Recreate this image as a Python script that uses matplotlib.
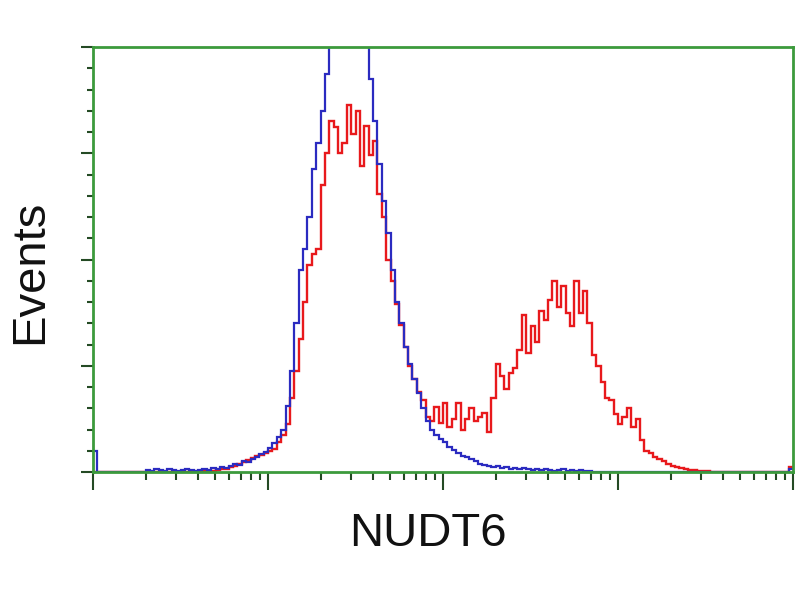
import numpy as np
import matplotlib
matplotlib.use("Agg")
import matplotlib.pyplot as plt
from matplotlib.ticker import LogLocator, MultipleLocator, NullFormatter

# ---- data (histogram counts per log-channel bin, 0.025 decade each, 4 decades) ----
n_decades = 4
bin_step = 0.025

blue_counts = ([20] + [0] * 11 +
               [2, 1, 3, 2, 1, 3, 2, 1, 2, 3, 2, 1, 2, 3, 2, 4, 3, 5,
                4, 6, 8, 7, 10, 9, 12, 14, 17, 19,
                23, 27, 33, 40, 62, 95, 140, 190, 210, 240, 285, 310, 340, 375,
                430, 450, 460, 455, 465, 460, 450, 440,
                405, 370, 330, 290, 255, 225, 190, 160, 140, 118, 102, 88, 74, 60,
                48, 40, 35, 31, 28, 24, 21, 18, 15, 14, 12, 10, 8, 7, 6, 5, 6, 4,
                5, 3, 4, 3, 4, 3, 2, 3, 2, 3, 2, 1, 2, 3, 1, 2, 1, 2, 1, 1] +
               [0] * 45 + [3])

red_counts = ([0] * 25 +
              [1, 0, 1, 2, 3,
               3, 5, 6, 8, 9, 11, 13, 15, 16, 18,
               20, 22, 28, 35, 45, 70, 95, 125, 160, 195, 205, 210, 270, 300,
               330, 325, 300, 310, 345, 318, 340, 288, 326, 298, 312, 262, 240,
               200, 180, 158, 138, 118, 100, 88, 75, 68, 52, 48, 61, 46, 65, 42,
               50, 65, 40, 50, 60, 48, 52, 56, 38, 70, 102, 90, 78, 93, 98, 115,
               148, 112, 137, 122, 152, 143, 162, 180, 155, 175, 150, 137, 180,
               150, 170, 140, 110, 100, 85, 70, 68, 55, 45, 52, 60, 42, 50, 30,
               20, 18, 14, 12, 10, 8, 6, 5, 4, 3, 2, 2, 1, 1, 1] +
              [0] * 18 + [5])

n_bins = int(round(n_decades / bin_step))
assert len(blue_counts) == n_bins, len(blue_counts)
assert len(red_counts) == n_bins, len(red_counts)

edges = 10 ** (np.arange(n_bins + 1) * bin_step)

x_label = "NUDT6"
y_label = "Events"

# ---- figure ----
fig = plt.figure(figsize=(8, 6), dpi=100)
ax = fig.add_axes([93 / 800, 1 - 472 / 600, 700 / 800, 425 / 600])

ax.stairs(red_counts, edges, baseline=None, color="#e8191c", lw=1.7)
ax.stairs(blue_counts, edges, baseline=None, color="#2b2bc0", lw=1.6)

ax.set_xscale("log")
ax.set_xlim(1, 10 ** n_decades)
ax.set_ylim(0, 400)

green = "#3c9a3c"
for s in ax.spines.values():
    s.set_color(green)
    s.set_linewidth(2)

ax.xaxis.set_major_locator(LogLocator(base=10, numticks=10))
ax.xaxis.set_minor_locator(LogLocator(base=10, subs=np.arange(2, 10), numticks=20))
ax.xaxis.set_major_formatter(NullFormatter())
ax.xaxis.set_minor_formatter(NullFormatter())
ax.yaxis.set_major_locator(MultipleLocator(100))
ax.yaxis.set_minor_locator(MultipleLocator(20))
ax.yaxis.set_major_formatter(NullFormatter())

tick_col = "#244a24"
ax.tick_params(axis="x", which="major", direction="out", length=13, width=1.5, color=tick_col)
ax.tick_params(axis="x", which="minor", direction="out", length=6, width=1.5, color=tick_col)
ax.tick_params(axis="y", which="major", direction="out", length=9, width=1.5, color=tick_col)
ax.tick_params(axis="y", which="minor", direction="out", length=4.5, width=1.5, color=tick_col)

fig.text(428 / 800, 1 - 534 / 600, x_label, fontsize=34, family="Liberation Sans",
         ha="center", va="center", color="#111111")
fig.text(30 / 800, 1 - 272 / 600, y_label, fontsize=34, family="Liberation Sans",
         ha="center", va="center", rotation=90, color="#111111")

fig.savefig("out.png", dpi=100)
